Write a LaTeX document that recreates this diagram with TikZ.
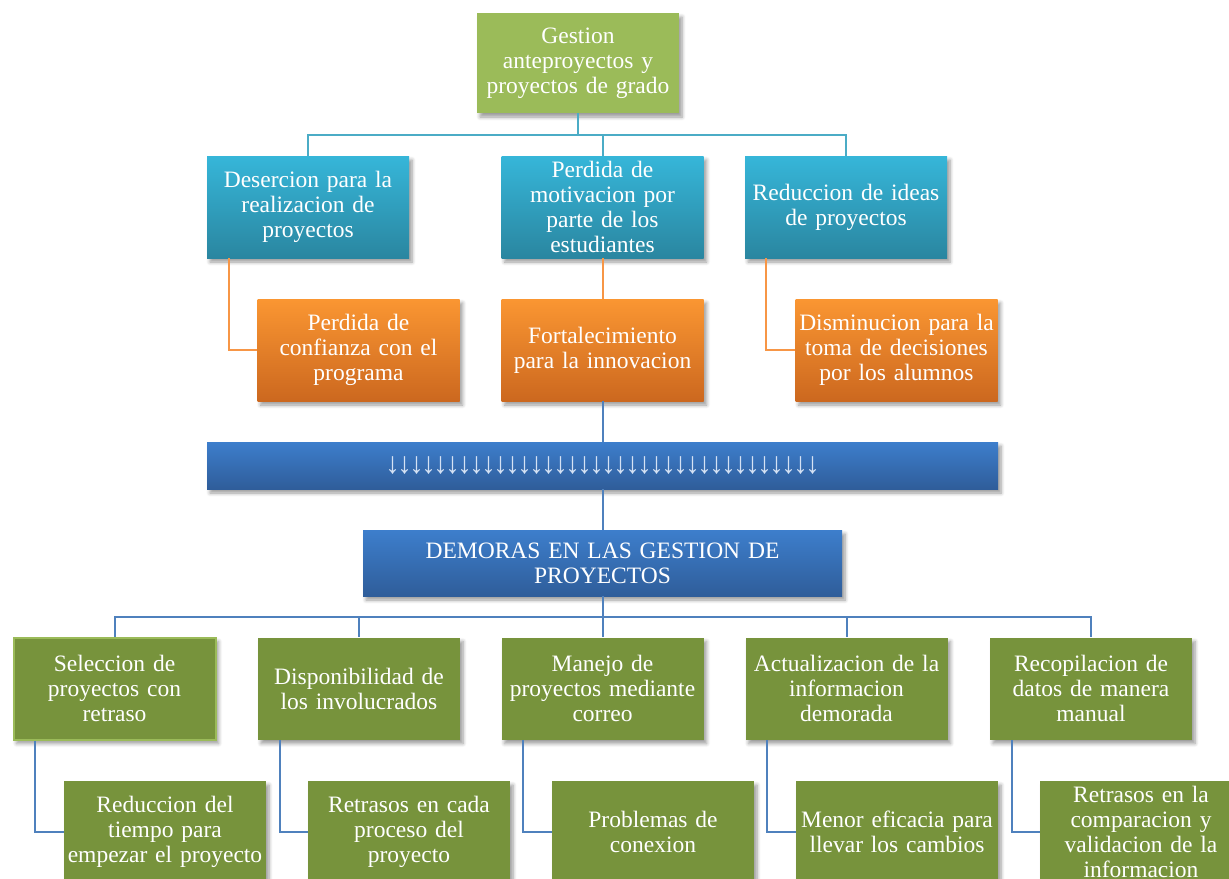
\documentclass[tikz,border=0pt]{standalone}
\usepackage{fontspec}
\setmainfont{Liberation Serif}
\usetikzlibrary{shadows.blur}
\definecolor{topgreen}{HTML}{9BBB59}
\definecolor{tealtop}{HTML}{36B6D9}
\definecolor{tealbot}{HTML}{2A86A0}
\definecolor{orgtop}{HTML}{FA9632}
\definecolor{orgbot}{HTML}{CC681F}
\definecolor{bluetop}{HTML}{3D7ECC}
\definecolor{bluebot}{HTML}{2F5D9A}
\definecolor{olive}{HTML}{77933C}
\definecolor{tealline}{HTML}{4BACC6}
\definecolor{orgline}{HTML}{F79646}
\definecolor{blueline}{HTML}{4F81BD}
\definecolor{arrowtxt}{HTML}{D5E2F4}
\newcommand\downarr{\makebox[6pt]{↓}}
\begin{document}
\begin{tikzpicture}[x=0.5pt,y=-0.5pt,
  box/.style={minimum width=101pt, minimum height=51pt, text width=100pt,
    align=center, inner sep=0pt, text=white,
    font=\fontsize{11.75}{12.5}\selectfont,
    blur shadow={shadow xshift=1.5pt, shadow yshift=-2pt, shadow opacity=40, shadow blur steps=6}},
  tealbox/.style={box, top color=tealtop, bottom color=tealbot},
  orgbox/.style={box, top color=orgtop, bottom color=orgbot},
  olivebox/.style={box, fill=olive},
  tline/.style={draw=tealline, line width=1pt},
  oline/.style={draw=orgline, line width=1pt},
  bline/.style={draw=blueline, line width=1pt}]
	\useasboundingbox (0,0) rectangle (1229,878);
	\clip (0,0) rectangle (1229,878);

	% top of the tree
	\node[box, fill=topgreen, minimum height=50pt] (top) at (578,63) {Gestion\\ anteproyectos y\\ proyectos de grado};

	\node[tealbox] (d1) at (308,207) {Desercion para la\\ realizacion de\\ proyectos};
	\node[tealbox] (d2) at (602.5,207) {Perdida de\\ motivacion por\\ parte de los\\ estudiantes};
	\node[tealbox] (d3) at (846,207) {Reduccion de ideas\\ de proyectos};

	\node[orgbox] (c1) at (358.5,350) {Perdida de\\ confianza con el\\ programa};
	\node[orgbox] (c2) at (602.5,350) {Fortalecimiento\\ para la innovacion};
	\node[orgbox] (c3) at (896.5,350) {Disminucion para la\\ toma de decisiones\\ por los alumnos};

	% arrow bar and problem
	\node[box, top color=bluetop, bottom color=bluebot, minimum width=395.5pt, minimum height=23.5pt, text width=390pt, text=arrowtxt,
		font=\fontsize{15}{15}\selectfont] (bar) at (602.5,465.5)
		{\foreach \k in {1,...,36}{\downarr}};
	\node[box, top color=bluetop, bottom color=bluebot, minimum width=239.5pt, minimum height=33pt, text width=230pt] (dem) at (602.5,563)
		{DEMORAS EN LAS GESTION DE\\ PROYECTOS};

	% causes
	\node[olivebox, draw=topgreen, line width=1pt] (e1) at (114.5,688.5) {Seleccion de\\ proyectos con\\ retraso};
	\node[olivebox] (e2) at (359,688.5) {Disponibilidad de\\ los involucrados};
	\node[olivebox] (e3) at (602.5,688.5) {Manejo de\\ proyectos mediante\\ correo};
	\node[olivebox] (e4) at (846.5,688.5) {Actualizacion de la\\ informacion\\ demorada};
	\node[olivebox] (e5) at (1091,688.5) {Recopilacion de\\ datos de manera\\ manual};

	\node[olivebox] (f1) at (165,832) {Reduccion del\\ tiempo para\\ empezar el proyecto};
	\node[olivebox] (f2) at (409,832) {Retrasos en cada\\ proceso del\\ proyecto};
	\node[olivebox] (f3) at (653,832) {Problemas de\\ conexion};
	\node[olivebox] (f4) at (897,832) {Menor eficacia para\\ llevar los cambios};
	\node[olivebox] (f5) at (1141,832) {Retrasos en la\\ comparacion y\\ validacion de la\\ informacion};

	% connectors
	\foreach \i in {1,2,3}
		\draw[tline] (top.south) -- ++(0,22) -| (d\i.north);
	\draw[oline] ([xshift=11pt]d1.south west) |- (c1.west);
	\draw[oline] (d2.south) -- (c2.north);
	\draw[oline] ([xshift=10.5pt]d3.south west) |- (c3.west);

	\draw[bline] (c2.south) -- (bar.north);
	\draw[bline] (bar.south) -- (dem.north);
	\foreach \i in {1,...,5} {
		\draw[bline] (dem.south) -- ++(0,21) -| (e\i.north);
		\draw[bline] ([xshift=11pt]e\i.south west) |- (f\i.west);
	}
\end{tikzpicture}
\end{document}
